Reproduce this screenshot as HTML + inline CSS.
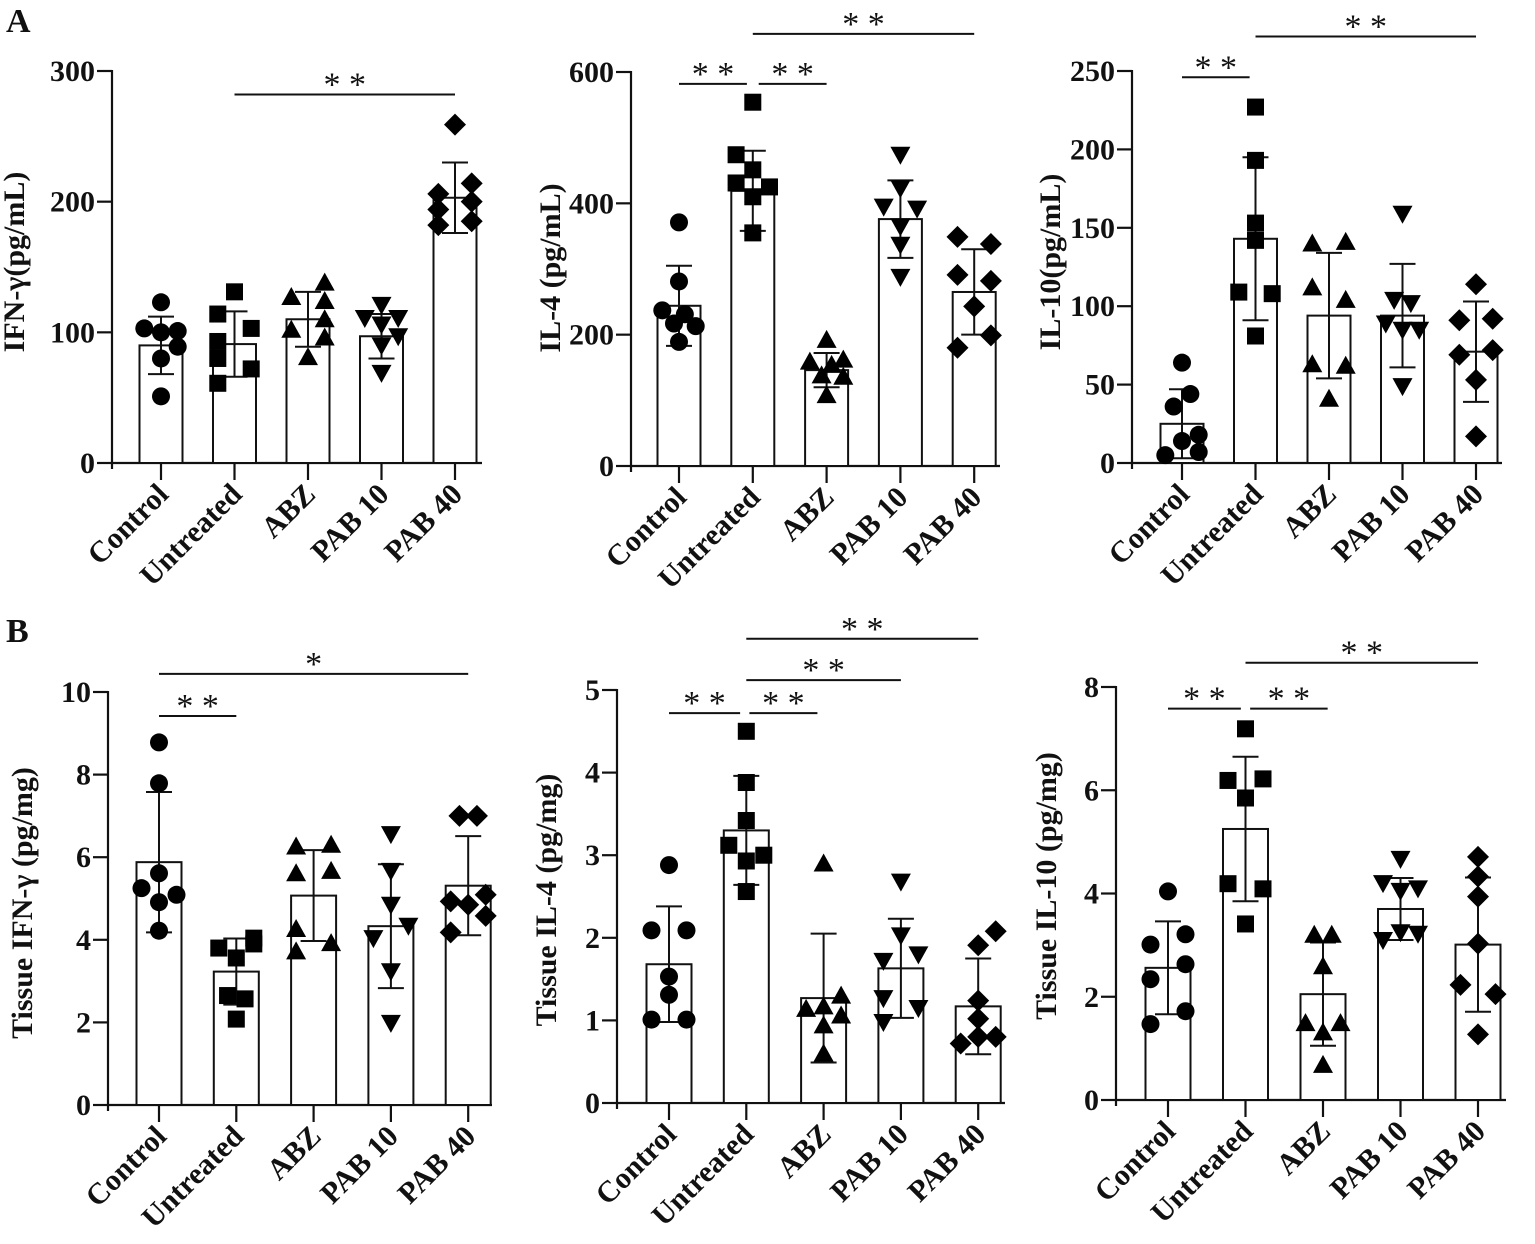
<!DOCTYPE html>
<html><head><meta charset="utf-8"><style>
html,body{margin:0;padding:0;background:#fff;}
svg{display:block;}
text{font-family:"Liberation Serif","Times New Roman",serif;fill:#111;}
</style></head>
<body>
<svg id="fig" width="1535" height="1244" viewBox="0 0 1535 1244">
<text x="6" y="32" font-size="34" font-weight="bold">A</text>
<text x="6" y="642" font-size="34" font-weight="bold">B</text>
</svg>
<script>
const categories = ["Control","Untreated","ABZ","PAB 10","PAB 40"];

// Panel A1: IFN-γ serum
const a1Means = [90,91,110,97,203];
const a1Sd = [22,25,21,17,27];
const a1Points = [[123,103,100,101,89,80,51],[131,114,103,93,80,72,61],[138,127,124,110,102,96,81],[121,111,106,111,97,90,69],[259,206,214,200,194,185,182]];
const a1Jitter = [[0,-1,0,1,1,0,0],[0,-1,1,-1,-1,1,-1],[1,-1,1,1,-1,1,0],[0,-1,0,1,1,0,0],[0,-1,1,1,-1,1,-1]];
const a1Ticks = [0,100,200,300];

// Panel A2: IL-4 serum
const a2Means = [244,419,146,376,265];
const a2Sd = [61,61,26,59,65];
const a2Points = [[371,281,237,231,217,213,189],[554,474,451,431,425,410,355],[192,159,162,154,138,136,108],[474,423,395,392,365,337,288],[349,338,291,282,243,199,180]];
const a2Jitter = [[0,0,-1,0.35,-0.3,1,0],[0,-1,0,-1,1,0,0],[0,-1,1,0.3,-0.3,1,0],[0,0,-1,1,0,0,0],[-1,1,-1,1,0,1,-1]];
const a2Ticks = [0,200,400,600];

// Panel A3: IL-10 serum
const a3Means = [25,143,94,94,71];
const a3Sd = [22,52,40,33,32];
const a3Points = [[64,44,36,18,14,7,5],[227,193,153,142,109,108,81],[140,141,112,104,63,62,41],[159,104,102,89,85,85,49],[114,91,92,69,72,53,17]];
const a3Jitter = [[0,0.5,-0.5,1,0,1,-1],[0,0,0,0,-1,1,0],[-1,1,-1,1,-1,1,0],[0,-0.5,0.5,-1,0,1,0],[0,-1,1,-1,1,0,0]];
const a3Ticks = [0,50,100,150,200,250];

// Panel B1: Tissue IFN-γ
const b1Means = [5.88,3.23,5.07,4.33,5.31];
const b1Sd = [1.7,0.8,1.1,1.5,1.2];
const b1Points = [[8.78,7.79,5.61,5.25,5.09,4.91,4.22],[4.04,3.80,3.56,3.9,2.65,2.57,2.08],[6.26,6.30,5.61,5.67,4.26,3.72,3.92],[6.56,5.67,4.85,4.34,4.04,3.24,1.99],[7.0,7.0,5.09,4.85,4.93,4.58,4.18]];
const b1Jitter = [[0,0,0,-1,1,0,0],[1,-1,0,1,-0.5,0.5,0],[-1,1,-1,1,-1,-1,1],[0,0,0,1,-1,0,0],[-0.5,0.5,1,0,-1,1,-1]];
const b1Ticks = [0,2,4,6,8,10];

// Panel B2: Tissue IL-4
const b2Means = [1.68,3.30,1.27,1.63,1.17];
const b2Sd = [0.7,0.66,0.78,0.6,0.58];
const b2Points = [[2.88,2.09,2.09,1.53,1.31,1.01,1.01],[4.50,3.88,3.42,3.12,3.00,2.93,2.56],[2.90,1.30,1.14,1.17,1.06,0.94,0.60],[2.68,2.03,1.80,1.72,1.27,1.15,0.98],[2.08,1.91,1.24,1.02,0.72,0.80,0.80]];
const b2Jitter = [[0,-1,1,0,0,-1,1],[0,0,0,-1,1,0,0],[0,1,-1,0,1,0,0],[0,0,1,-1,-1,1,-1],[1,0,0,0,-1,0,1]];
const b2Ticks = [0,1,2,3,4,5];

// Panel B3: Tissue IL-10
const b3Means = [2.56,5.25,2.05,3.70,3.01];
const b3Sd = [0.9,1.4,1.0,0.6,1.3];
const b3Points = [[4.04,3.21,3.01,2.63,2.34,1.72,1.47],[7.19,6.19,6.22,5.85,4.19,4.09,3.41],[3.20,3.20,2.59,1.49,1.49,1.31,0.68],[4.67,4.20,4.05,4.10,3.10,3.25,3.22],[4.71,4.33,3.94,3.03,2.23,2.05,1.27]];
const b3Jitter = [[0,1,-1,1,-1,1,-1],[0,-1,1,0,-1,1,0],[-0.5,0.5,0,-1,1,0,0],[0,-1,0,1,-1,0,1],[0,0,0,0,-1,1,0]];
const b3Ticks = [0,2,4,6,8];

// significance brackets: [fromGroup, toGroup, yValue, label]
const a1Sig = [[1,4,282,"* *"]];
const a2Sig = [[0,0.92,582,"* *"],[1.08,2,582,"* *"],[1,4,658,"* *"]];
const a3Sig = [[0,0.92,246,"* *"],[1,4,272,"* *"]];
const b1Sig = [[0,1,9.42,"* *"],[0,4,10.44,"*"]];
const b2Sig = [[0,0.92,4.72,"* *"],[1.04,1.92,4.72,"* *"],[1,3,5.12,"* *"],[1,4,5.62,"* *"]];
const b3Sig = [[0,0.94,7.58,"* *"],[1.06,2.06,7.58,"* *"],[1,4,8.47,"* *"]];

const NS = "http://www.w3.org/2000/svg";
const svg = document.getElementById('fig');
function mk(tag, attrs, parent){
  const e = document.createElementNS(NS, tag);
  for (const k in attrs) e.setAttribute(k, attrs[k]);
  (parent||svg).appendChild(e);
  return e;
}
function marker(type, x, y, g){
  let e;
  if (type===0){ e = mk('circle',{cx:x,cy:y,r:9,fill:'#000'},g); }
  else if (type===1){ e = mk('rect',{x:x-8.5,y:y-8.5,width:17,height:17,fill:'#000'},g); }
  else if (type===2){ e = mk('polygon',{points:`${x},${y-10} ${x-10},${y+8} ${x+10},${y+8}`,fill:'#000'},g); }
  else if (type===3){ e = mk('polygon',{points:`${x},${y+10} ${x-10},${y-8} ${x+10},${y-8}`,fill:'#000'},g); }
  else { e = mk('polygon',{points:`${x},${y-11} ${x+11},${y} ${x},${y+11} ${x-11},${y}`,fill:'#000'},g); }
  return e;
}

function panel(cfg, means, sd, points, jitter, ticks, sig, key){
  const g = mk('g',{});
  
  
  const yMax = ticks[ticks.length-1];
  const Y = v => cfg.y0 - (v / yMax) * (cfg.y0 - cfg.yTop);
  const X = i => cfg.c0 + i * cfg.dc;
  const ya = mk('line',{x1:cfg.ax,y1:cfg.yTop-1,x2:cfg.ax,y2:cfg.y0+6,stroke:'#111','stroke-width':2.2},g);
  
  
  ticks.forEach(t=>{
    const y = Y(t);
    mk('line',{x1:cfg.ax-15,y1:y,x2:cfg.ax,y2:y,stroke:'#111','stroke-width':2.2},g);
    const tl = mk('text',{x:cfg.ax-17,y:y+10,'font-size':30,'font-weight':'bold','text-anchor':'end'},g);
    tl.textContent = t;
    
    
  });
  const xa = mk('line',{x1:cfg.ax,y1:cfg.y0,x2:cfg.xEnd,y2:cfg.y0,stroke:'#111','stroke-width':2.2},g);
  
  
  const yt = mk('text',{x:0,y:0,'font-size':30,'font-weight':'bold','text-anchor':'middle',transform:`translate(${cfg.tx},${cfg.ty}) rotate(-90)`},g);
  yt.textContent = cfg.title;
  
  
  categories.forEach((c,i)=>{
    const cx = X(i);
    const bw = cfg.bw;
    const bar = mk('rect',{x:cx-bw/2,y:Y(means[i]),width:bw,height:cfg.y0-Y(means[i]),fill:'#fff',stroke:'#111','stroke-width':2},g);
    
    
    mk('line',{x1:cx,y1:cfg.y0,x2:cx,y2:cfg.y0+17,stroke:'#111','stroke-width':2.2},g);
    const lbl = mk('text',{x:0,y:0,'font-size':30,'font-weight':'bold','text-anchor':'end',transform:`translate(${cx+9},${cfg.y0+33}) rotate(-45)`},g);
    lbl.textContent = c;
    
    
    const hi = Y(means[i]+sd[i]), lo = Y(Math.max(0,means[i]-sd[i]));
    const eb = mk('g',{},g);
    
    
    mk('line',{x1:cx,y1:hi,x2:cx,y2:lo,stroke:'#111','stroke-width':2},eb);
    mk('line',{x1:cx-13,y1:hi,x2:cx+13,y2:hi,stroke:'#111','stroke-width':2},eb);
    mk('line',{x1:cx-13,y1:lo,x2:cx+13,y2:lo,stroke:'#111','stroke-width':2},eb);
    points[i].forEach((v,k)=>{
      const m = marker(i, cx + jitter[i][k]*cfg.ju, Y(v), g);
      
      
    });
  });
  sig.forEach(s=>{
    const y = Y(s[2]);
    const x1 = X(s[0]), x2 = X(s[1]);
    const ln = mk('line',{x1:x1,y1:y,x2:x2,y2:y,stroke:'#111','stroke-width':2},g);
    
    
    const st = mk('text',{x:(x1+x2)/2,y:y+1,'font-size':34,'text-anchor':'middle'},g);
    st.textContent = s[3];
    
    
  });
}

panel({ax:112,y0:463,yTop:71,c0:161,dc:73.5,xEnd:482,bw:43,ju:16.7,title:"IFN-γ(pg/mL)",tx:24,ty:262}, a1Means,a1Sd,a1Points,a1Jitter,a1Ticks,a1Sig,'a1');
panel({ax:631,y0:466,yTop:72,c0:679,dc:73.8,xEnd:1000,bw:43,ju:16.7,title:"IL-4 (pg/mL)",tx:560,ty:268}, a2Means,a2Sd,a2Points,a2Jitter,a2Ticks,a2Sig,'a2');
panel({ax:1132,y0:463,yTop:71,c0:1182,dc:73.5,xEnd:1502,bw:43,ju:16.7,title:"IL-10(pg/mL)",tx:1060,ty:262}, a3Means,a3Sd,a3Points,a3Jitter,a3Ticks,a3Sig,'a3');
panel({ax:108,y0:1105,yTop:692,c0:159,dc:77.3,xEnd:492,bw:45,ju:17.5,title:"Tissue IFN-γ (pg/mg)",tx:32,ty:903}, b1Means,b1Sd,b1Points,b1Jitter,b1Ticks,b1Sig,'b1');
panel({ax:617,y0:1103,yTop:690,c0:669,dc:77.3,xEnd:1005,bw:45,ju:17.5,title:"Tissue IL-4 (pg/mg)",tx:556,ty:900}, b2Means,b2Sd,b2Points,b2Jitter,b2Ticks,b2Sig,'b2');
panel({ax:1116,y0:1100,yTop:687,c0:1168,dc:77.5,xEnd:1506,bw:45,ju:17.5,title:"Tissue IL-10 (pg/mg)",tx:1056,ty:886}, b3Means,b3Sd,b3Points,b3Jitter,b3Ticks,b3Sig,'b3');
</script>
</body></html>
